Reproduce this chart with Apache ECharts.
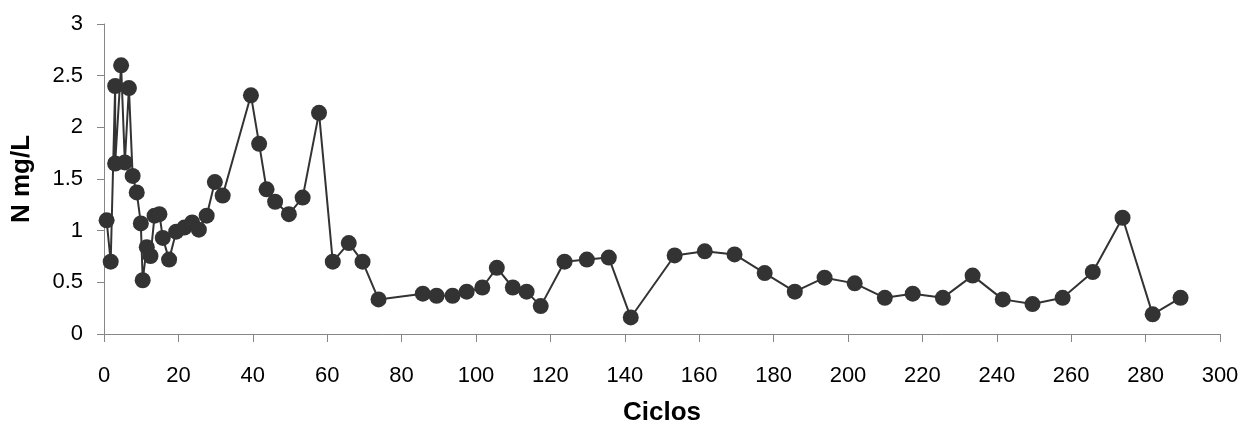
<!DOCTYPE html>
<html>
<head>
<meta charset="utf-8">
<script src="https://cdn.jsdelivr.net/npm/echarts@6/dist/echarts.min.js"></script>
<style>html,body{margin:0;padding:0;background:#fff}#c{width:1244px;height:422px}</style>
</head>
<body>
<div id="c"></div>
<script>
const ciclos = [0.7, 1.8, 3, 3, 4.6, 5.6, 6.7, 7.7, 8.8, 9.9, 10.4, 11.5, 12.5, 13.6, 14.9, 15.8, 17.5, 19.4, 21.6, 23.7, 25.5, 27.6, 29.8, 31.9, 39.5, 41.7, 43.7, 46, 49.7, 53.4, 57.8, 61.5, 65.8, 69.5, 73.8, 85.7, 89.4, 93.7, 97.5, 101.7, 105.6, 109.9, 113.6, 117.4, 123.8, 129.8, 135.7, 141.6, 153.4, 161.5, 169.5, 177.6, 185.7, 193.7, 201.8, 209.9, 217.4, 225.5, 233.5, 241.6, 249.6, 257.7, 265.8, 273.8, 281.9, 289.4];
const nitrogeno = [1.10, 0.70, 2.40, 1.65, 2.60, 1.66, 2.38, 1.53, 1.37, 1.07, 0.52, 0.84, 0.755, 1.145, 1.16, 0.93, 0.72, 0.99, 1.03, 1.08, 1.01, 1.145, 1.47, 1.34, 2.31, 1.84, 1.40, 1.28, 1.16, 1.32, 2.14, 0.70, 0.88, 0.70, 0.335, 0.39, 0.37, 0.37, 0.41, 0.45, 0.64, 0.45, 0.41, 0.27, 0.70, 0.72, 0.74, 0.16, 0.76, 0.80, 0.77, 0.59, 0.41, 0.545, 0.49, 0.35, 0.39, 0.35, 0.565, 0.335, 0.29, 0.35, 0.60, 1.125, 0.19, 0.35];
const xTitle = 'Ciclos';
const yTitle = 'N mg/L';

const data = ciclos.map((x, i) => [x, nitrogeno[i]]);
const chart = echarts.init(document.getElementById('c'));
const font = '"Liberation Sans", Arial, sans-serif';
chart.setOption({
  animation: false,
  grid: { left: 104, right: 24, top: 24, bottom: 88, containLabel: false, outerBoundsMode: 'none' },
  xAxis: {
    type: 'value', min: 0, max: 300, interval: 20,
    name: xTitle, nameLocation: 'middle', nameGap: 66,
    nameTextStyle: { fontFamily: font, fontSize: 26, fontWeight: 'bold', color: '#000' },
    axisLine: { show: true, lineStyle: { color: '#868686', width: 1 } },
    axisTick: { show: true, length: 8, lineStyle: { color: '#868686' } },
    axisLabel: { margin: 31, fontFamily: font, fontSize: 22, color: '#000' },
    splitLine: { show: false }
  },
  yAxis: {
    type: 'value', min: 0, max: 3, interval: 0.5,
    name: yTitle, nameLocation: 'middle', nameGap: 69,
    nameTextStyle: { fontFamily: font, fontSize: 26, fontWeight: 'bold', color: '#000' },
    axisLine: { show: true, lineStyle: { color: '#868686', width: 1 } },
    axisTick: { show: true, length: 7, lineStyle: { color: '#868686' } },
    axisLabel: { margin: 21, fontFamily: font, fontSize: 22, color: '#000' },
    splitLine: { show: false }
  },
  series: [{
    type: 'line', data: data,
    symbol: 'circle', symbolSize: 16,
    itemStyle: { color: '#333333' },
    lineStyle: { color: '#333333', width: 2 }
  }]
});
</script>
</body>
</html>
